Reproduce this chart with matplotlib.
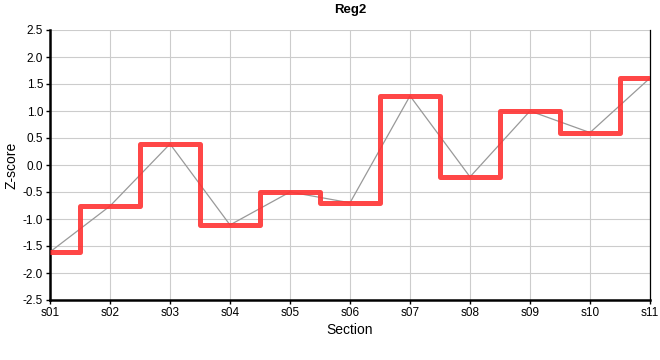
import numpy as np
import matplotlib.pyplot as plt

plt.rcParams['font.family'] = ['Liberation Sans', 'DejaVu Sans']

# Z-scores per section
sections = ["s01", "s02", "s03", "s04", "s05", "s06", "s07", "s08", "s09", "s10", "s11"]
zscores = [-1.61, -0.76, 0.39, -1.11, -0.50, -0.70, 1.28, -0.22, 1.00, 0.60, 1.61]
yticks = [-2.5, -2.0, -1.5, -1.0, -0.5, 0.0, 0.5, 1.0, 1.5, 2.0, 2.5]

x = np.arange(len(sections))

fig = plt.figure(figsize=(6.6, 3.6), dpi=100)
ax = fig.add_axes([50 / 660, 60 / 360, 600 / 660, 270 / 360])

ax.plot(x, zscores, color='#999999', linewidth=0.9, zorder=2)
ax.step(x, zscores, where='mid', color='#ff3333', alpha=0.9, linewidth=3.6,
        solid_joinstyle='round', solid_capstyle='butt', zorder=3)

ax.set_xlim(0, len(sections) - 1)
ax.set_ylim(-2.5, 2.5)
ax.set_xticks(x)
ax.set_xticklabels(sections)
ax.set_yticks(yticks)
ax.set_yticklabels([f"{v:.1f}" for v in yticks])
ax.grid(True, color='#cccccc', linewidth=0.8, zorder=0)
ax.set_axisbelow(True)

for side in ['left', 'bottom']:
    ax.spines[side].set_linewidth(1.8)
    ax.spines[side].set_color('black')
ax.spines['right'].set_linewidth(0.9)
ax.spines['right'].set_color('black')
ax.spines['top'].set_visible(False)
ax.tick_params(axis='both', labelsize=8.5, length=3, width=1, pad=2)

ax.set_xlabel('Section', fontsize=10, labelpad=3)
ax.set_ylabel('Z-score', fontsize=10)
ax.yaxis.set_label_coords(-0.052, 0.5)
ax.set_title('Reg2', fontsize=9.5, fontweight='bold', pad=12)

plt.savefig('out.png', dpi=100)
